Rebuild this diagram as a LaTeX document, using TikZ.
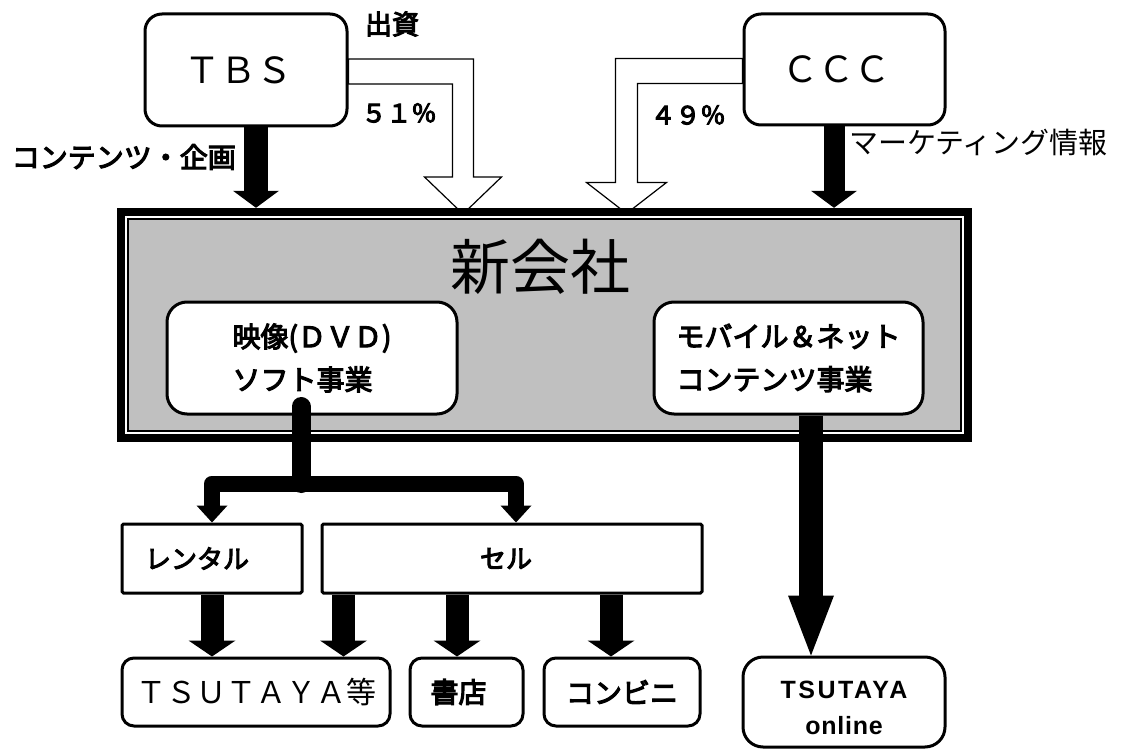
\documentclass[tikz,border=0pt]{standalone}
\usepackage{fontspec}
\newfontfamily\jp{Noto Sans CJK JP}
\newfontfamily\jpb[FakeBold=4]{Noto Sans CJK JP}
\newfontfamily\lat[LetterSpace=3]{Liberation Sans}
\usetikzlibrary{arrows.meta,backgrounds,calc}
\definecolor{boxgray}{HTML}{C0C0C0}
\tikzset{
  rbox/.style={draw, line width=3pt, rounded corners=17pt, fill=white, inner sep=0pt},
  sbox/.style={draw, line width=3pt, rounded corners=1.5pt, fill=white, inner sep=0pt},
  bbox/.style={draw, line width=3pt, rounded corners=12pt, fill=white, inner sep=0pt,
    minimum height=68pt},
  hollow/.style={draw, line width=1.2pt, fill=white, line join=miter},
  lbl/.style={inner sep=0pt},
  jb/.style={font=\jpb\fontsize{#1}{#1}\selectfont},
  jr/.style={font=\jp\fontsize{#1}{#1}\selectfont},
  topA/.style={line width=#1, -{Triangle[width=46pt,length=17pt,line width=0pt]}},
  botA/.style={line width=23pt, -{Triangle[width=47pt,length=16pt,line width=0pt]}},
  longA/.style={line width=24pt, -{Triangle[width=46pt,length=60pt,line width=0pt]}},
  brTip/.tip={Triangle[width=31pt,length=17pt,line width=0pt]},
}
\begin{document}
\begin{tikzpicture}[x=1pt,y=-1pt]
\useasboundingbox (0,0) rectangle (1122,749);
\begin{scope}[on background layer]
  \fill[white] (0,0) rectangle (1122,749);
\end{scope}

% top companies
\node[rbox, minimum width=202pt, minimum height=112pt, jr=36pt] (tbs) at (246,70) {\hspace*{-16pt}ＴＢＳ};
\node[rbox, minimum width=201pt, minimum height=111pt, jr=36pt] (ccc) at (844.5,69.5) {\hspace*{-16pt}ＣＣＣ};

% hollow investment arrows
\begin{scope}[on background layer]
  \draw[hollow] ([yshift=11pt]tbs.east) -- ++(125,0) -- ++(0,118) -- ++(28,0)
     -- ++(-38.5,37) -- ++(-38.5,-37) -- ++(28,0) -- ++(0,-93) -- ++(-104,0) -- cycle;
  \draw[hollow] ([yshift=11pt]ccc.west) -- ++(-127,0) -- ++(0,124) -- ++(-29,0)
     -- ++(40,31) -- ++(40,-31) -- ++(-29,0) -- ++(0,-99) -- ++(105,0) -- cycle;
\end{scope}

% new company box
\node[inner sep=0pt, minimum width=855pt, minimum height=234pt] (shin) at (544.5,325) {};
\fill[black] (shin.north west) rectangle (shin.south east);
\fill[white] ([shift={(8,8)}]shin.north west) rectangle ([shift={(-8,-8)}]shin.south east);
\fill[black] ([shift={(10,10)}]shin.north west) rectangle ([shift={(-10,-10)}]shin.south east);
\fill[boxgray] ([shift={(12,12)}]shin.north west) rectangle ([shift={(-12,-12)}]shin.south east);
\node[lbl, jr=60pt] (title) at (540,267) {新会社};

\node[rbox, rounded corners=20pt, minimum width=290pt, minimum height=112pt, align=left,
  font=\jpb\fontsize{28pt}{43pt}\selectfont] (video) at (312,358)
  {映像(ＤＶＤ)\\ソフト事業};
\node[rbox, rounded corners=20pt, minimum width=269pt, minimum height=112pt, align=left,
  font=\jpb\fontsize{28pt}{43pt}\selectfont] (mobile) at (788.5,358)
  {モバイル＆ネット\\コンテンツ事業};

% labels
\node[lbl, jb=27pt] (shusshi) at (392,24) {出資};
\node[lbl, jb=25pt] (p51) at (399,113) {５１％};
\node[lbl, jb=25pt] (p49) at (688,115) {４９％};
\node[lbl, jb=28pt, anchor=east] (kikaku) at (236,157) {コンテンツ・企画};
\node[lbl, jr=29pt, anchor=west] (mkt) at (849,143) {マーケティング情報};

% black arrows into new company
\coordinate (a1) at ([xshift=10pt]tbs.south);
\draw[topA=24pt] (a1) -- (a1 |- shin.north);
\coordinate (a2) at ([xshift=-10.5pt]ccc.south);
\draw[topA=21pt] (a2) -- (a2 |- shin.north);

% distribution boxes
\node[sbox, minimum width=180pt, minimum height=69pt, jb=26pt] (rental) at (212,558.5) {\hspace*{-30pt}レンタル};
\node[sbox, minimum width=380pt, minimum height=69pt, jb=26pt] (sell) at (512,558.5) {\hspace*{-12pt}セル};

\node[bbox, minimum width=268pt, jr=30pt] (tsu) at (256,692) {ＴＳＵＴＡＹＡ等};
\node[bbox, minimum width=113pt, jb=28pt] (shoten) at (466.5,692) {\hspace*{-16pt}書店};
\node[bbox, minimum width=156pt, jb=28pt] (konbini) at (622,692) {コンビニ};
\node[rbox, rounded corners=20pt, minimum width=202pt, minimum height=90pt, align=center,
  font=\lat\bfseries\fontsize{25pt}{36pt}\selectfont] (online) at (844,702)
  {\rule{0pt}{30pt}{\addfontfeature{LetterSpace=10}TSUTAYA}\\online};

% branch from video business
\coordinate (j) at ($(video.south)+(-11,68)$);
\draw[line width=19pt, line cap=round] ([xshift=-11pt,yshift=9pt]video.south) -- (j);
\coordinate (sb) at ([xshift=4pt]sell.north);
\draw[line width=16pt, line join=round, brTip-brTip]
  (rental.north) -- (rental.north |- j) -- (sb |- j) -- (sb);

% arrows to outlets
\draw[botA] (rental.south) -- (rental.south |- tsu.north);
\coordinate (s1) at ([xshift=23pt]sell.south west);
\draw[botA] (s1) -- (s1 |- tsu.north);
\coordinate (s2) at ([xshift=-9.5pt]shoten.north);
\draw[botA] (s2 |- sell.south) -- (s2);
\coordinate (s3) at ([xshift=-11pt]konbini.north);
\draw[botA] (s3 |- sell.south) -- (s3);

% mobile to online
\coordinate (m1) at ([xshift=22.5pt]mobile.south);
\draw[longA] (m1) -- (m1 |- online.north);
\end{tikzpicture}
\end{document}
